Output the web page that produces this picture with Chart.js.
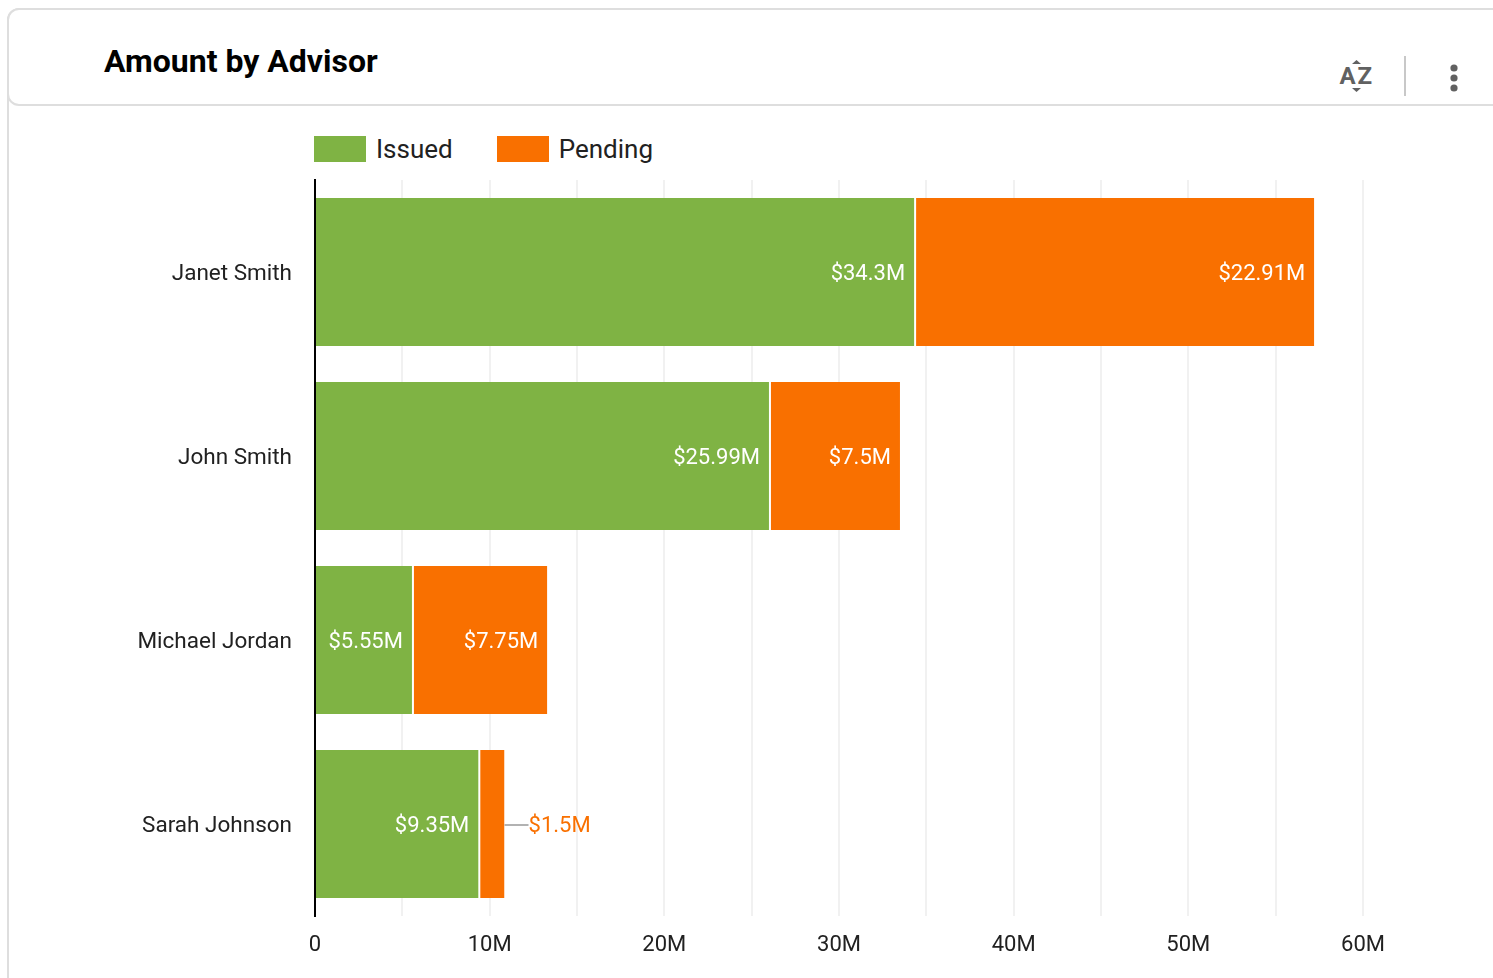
<!DOCTYPE html>
<html>
<head>
<meta charset="utf-8">
<title>Amount by Advisor</title>
<script src="https://cdn.jsdelivr.net/npm/chart.js@4/dist/chart.umd.min.js"></script>
<style>
  html, body { margin: 0; padding: 0; background: #fff; overflow: hidden; }
  body { width: 1493px; height: 978px; position: relative; font-family: Roboto, sans-serif; }
  .card { position: absolute; left: 7px; top: 8px; width: 1600px; height: 1000px; box-sizing: border-box;
    border: 2px solid #dedede; border-radius: 12px; }
  .head { position: absolute; left: 7px; top: 8px; width: 1600px; height: 98px; box-sizing: border-box;
    border: 2px solid #dedede; border-radius: 12px; background: #fff; }
  .title { position: absolute; left: 104px; top: 42px; font-size: 32px; line-height: 38px; font-weight: 700; color: #000; }
  .legend { position: absolute; left: 314px; top: 132px; height: 34px; display: flex; align-items: center; }
  .legend span.box { width: 52px; height: 26px; margin-right: 10px; }
  .legend span.txt { font-size: 26px; color: #212121; margin-right: 44px; }
  #wrap { position: absolute; left: 0; top: 0; width: 1493px; height: 978px; }
  svg.tools { position: absolute; left: 1320px; top: 50px; }
</style>
</head>
<body>
<div class="card"></div>
<div class="head"></div>
<div class="title">Amount by Advisor</div>
<svg class="tools" width="173" height="52" viewBox="0 0 173 52">
  <path d="M36.5 10 L32 14 L41 14 Z" fill="#616161"/>
  <path d="M36.5 42 L32 38 L41 38 Z" fill="#616161"/>
  <text x="19.5" y="34" font-family="Roboto" font-size="24" font-weight="700" fill="#616161">A</text>
  <text x="37.5" y="34" font-family="Roboto" font-size="24" font-weight="700" fill="#616161">Z</text>
  <rect x="84" y="6" width="2" height="40" fill="#c8c8c8"/>
  <circle cx="134" cy="18" r="3.6" fill="#616161"/>
  <circle cx="134" cy="28" r="3.6" fill="#616161"/>
  <circle cx="134" cy="38" r="3.6" fill="#616161"/>
</svg>
<div class="legend" id="legend"></div>
<div id="wrap"><canvas id="chart"></canvas></div>
<script>
const advisors = ['Janet Smith', 'John Smith', 'Michael Jordan', 'Sarah Johnson'];
const issued = [34.3, 25.99, 5.55, 9.35];
const pending = [22.91, 7.5, 7.75, 1.5];
const issuedColor = '#7fb344';
const pendingColor = '#f97000';

// builds the legend row
const seriesInfo = [['Issued', issuedColor], ['Pending', pendingColor]];
seriesInfo.forEach(function (s) {
  const box = document.createElement('span');
  box.className = 'box';
  box.style.background = s[1];
  const txt = document.createElement('span');
  txt.className = 'txt';
  txt.textContent = s[0];
  document.getElementById('legend').append(box, txt);
});

function money(v) {
  return '$' + v + 'M';
}

// value labels, no datalabels plugin here so done by hand
const barLabels = {
  id: 'barLabels',
  afterDatasetsDraw(chart) {
    const ctx = chart.ctx;
    ctx.save();
    ctx.font = '22px Roboto';
    ctx.textBaseline = 'middle';
    chart.data.datasets.forEach(function (ds, i) {
      chart.getDatasetMeta(i).data.forEach(function (bar, j) {
        const text = money(ds.data[j]);
        const w = ctx.measureText(text).width;
        if (bar.x - bar.base > w + 16) {
          ctx.fillStyle = '#fff';
          ctx.textAlign = 'right';
          ctx.fillText(text, bar.x - 9, bar.y + 2);
        } else {
          // too small, goes outside with a leader line
          ctx.strokeStyle = '#999';
          ctx.lineWidth = 1.5;
          ctx.beginPath();
          ctx.moveTo(bar.x, bar.y + 1);
          ctx.lineTo(bar.x + 24, bar.y + 1);
          ctx.stroke();
          ctx.fillStyle = ds.backgroundColor;
          ctx.textAlign = 'left';
          ctx.fillText(text, bar.x + 24, bar.y + 2);
        }
      });
    });
    ctx.restore();
  }
};

new Chart(document.getElementById('chart'), {
  type: 'bar',
  data: {
    labels: advisors,
    datasets: [
      { label: 'Issued', data: issued, backgroundColor: issuedColor, borderWidth: 0 },
      { label: 'Pending', data: pending, backgroundColor: pendingColor, borderColor: '#fff', borderWidth: { left: 2 }, borderSkipped: false }
    ]
  },
  options: {
    indexAxis: 'y',
    responsive: true,
    maintainAspectRatio: false,
    animation: false,
    layout: { padding: { top: 180, right: 130 } },
    barPercentage: 0.804,
    categoryPercentage: 1,
    plugins: { legend: { display: false }, tooltip: { enabled: false } },
    scales: {
      x: {
        stacked: true,
        min: 0,
        max: 60,
        afterFit(scale) { scale.height = 62; },
        border: { display: false },
        grid: { color: '#f1f1f1', lineWidth: 2, drawTicks: false },
        ticks: {
          stepSize: 5,
          autoSkip: false,
          maxRotation: 0,
          padding: 16,
          color: '#212121',
          font: { family: 'Roboto', size: 22 },
          callback(v) {
            if (v === 0) return '0';
            return v % 10 === 0 ? v + 'M' : '';
          }
        }
      },
      y: {
        stacked: true,
        afterFit(scale) { scale.width = 315; },
        border: { color: '#000', width: 2 },
        grid: { display: false },
        ticks: { padding: 15, labelOffset: 2, color: '#212121', font: { family: 'Roboto', size: 22.5 } }
      }
    }
  },
  plugins: [barLabels]
});
</script>
</body>
</html>
